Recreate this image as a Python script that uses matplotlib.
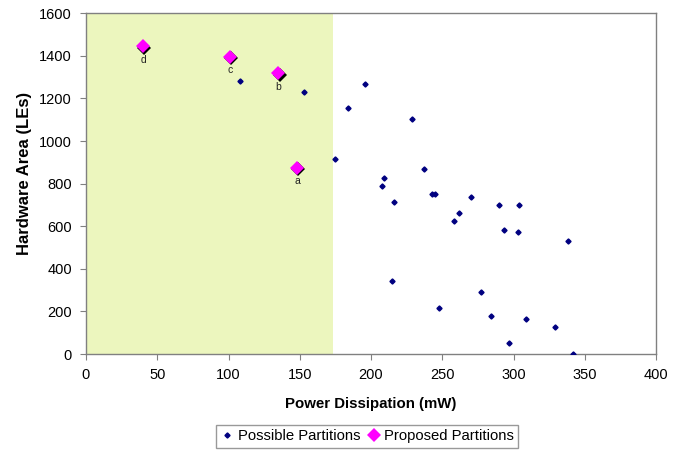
import matplotlib
matplotlib.use("Agg")
import matplotlib.pyplot as plt
import matplotlib.transforms as mtransforms

plt.rcParams['font.family'] = ['Liberation Sans', 'DejaVu Sans']

possible_x = [108, 153, 184, 175, 196, 229, 209, 208, 216, 237, 243, 245, 270, 262, 258,
              290, 304, 293, 303, 338, 215, 277, 248, 284, 309, 329, 297, 342]
possible_y = [1280, 1232, 1155, 915, 1270, 1105, 825, 790, 712, 867, 752, 752, 738, 662, 625,
              702, 698, 583, 574, 533, 343, 293, 215, 179, 165, 128, 50, 0]

proposed_x = [148, 135, 101, 40]
proposed_y = [873, 1318, 1395, 1445]
proposed_labels = ['a', 'b', 'c', 'd']

region_limit = 173

x_ticks = [0, 50, 100, 150, 200, 250, 300, 350, 400]
y_ticks = [0, 200, 400, 600, 800, 1000, 1200, 1400, 1600]

fig = plt.figure(figsize=(6.88, 4.51), dpi=100)
ax = fig.add_axes([0.125, 0.215, 0.8285, 0.7555])

ax.axvspan(0, region_limit, color='#ECF6BE', zorder=0, lw=0)

ax.plot(possible_x, possible_y, linestyle='none', marker='D', markersize=2.6,
        color='#000080', label='Possible Partitions', zorder=3)

shadow = mtransforms.offset_copy(ax.transData, fig=fig, x=1.2, y=-1.2, units='dots')
ax.plot(proposed_x, proposed_y, linestyle='none', marker='D', markersize=7.0,
        color='black', markeredgewidth=0, transform=shadow, zorder=3.5)
ax.plot(proposed_x, proposed_y, linestyle='none', marker='D', markersize=7.5,
        color='#FF00FF', markeredgewidth=0, label='Proposed Partitions', zorder=4)

for x, y, t in zip(proposed_x, proposed_y, proposed_labels):
    ax.annotate(t, (x, y), xytext=(0, -9.5), textcoords='offset points',
                ha='center', va='center', fontsize=7.5, color='#222222', zorder=5)

ax.set_xlim(0, 400)
ax.set_ylim(0, 1600)
ax.set_xticks(x_ticks)
ax.set_yticks(y_ticks)
ax.tick_params(axis='both', direction='out', length=4, width=0.8, color='#808080',
               labelsize=10.5, pad=6)
for s in ax.spines.values():
    s.set_color('#808080')
    s.set_linewidth(1.0)

ax.set_xlabel('Power Dissipation (mW)', fontsize=10.8, fontweight='bold', labelpad=11)
ax.set_ylabel('Hardware Area (LEs)', fontsize=12, fontweight='bold')
ax.yaxis.set_label_coords(-0.095, 0.529)

leg = fig.legend(loc='center', bbox_to_anchor=(0.5335, 0.0325), ncol=2, fontsize=10.7,
                 frameon=True, fancybox=False, edgecolor='#808080', handletextpad=0.2,
                 columnspacing=0.4, borderpad=0.3, handlelength=1.0, markerscale=1.0)
leg.get_frame().set_linewidth(1.0)

fig.savefig('out.png', dpi=100)
